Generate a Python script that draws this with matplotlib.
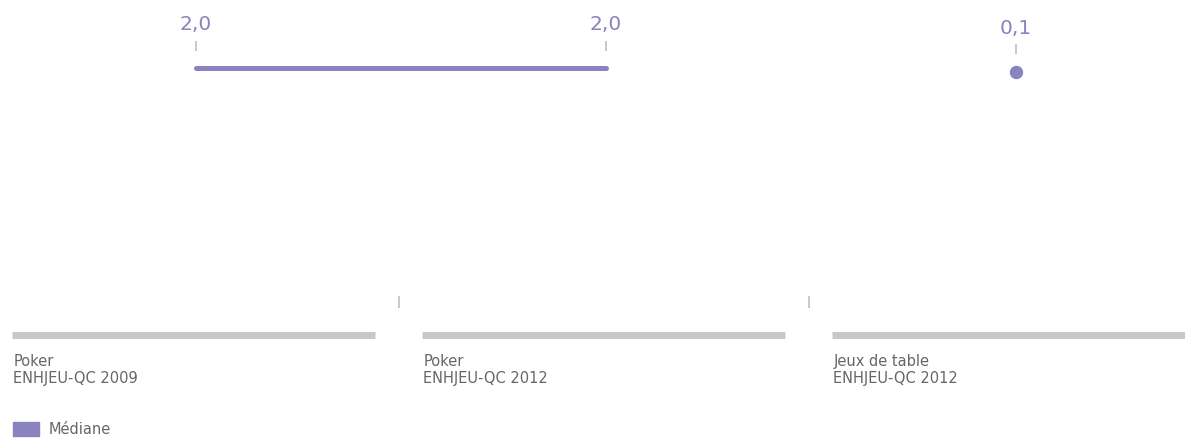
import matplotlib.pyplot as plt
from matplotlib.patches import Patch
from matplotlib.transforms import offset_copy

# Data
categories = ['Poker\nENHJEU-QC 2009', 'Poker\nENHJEU-QC 2012', 'Jeux de table\nENHJEU-QC 2012']
poker_x = [0, 1]
poker_median = [2.0, 2.0]
table_x = [2]
table_median = [0.1]
legend_label = 'Médiane'

purple = '#8983bf'
grey = '#c8c8c8'
text_grey = '#666666'
plt.rcParams['font.family'] = ['DejaVu Sans']

W, H = 1185, 442
fig = plt.figure(figsize=(W / 100, H / 100), dpi=100)

# axes in pixel terms: x spans -9..1221, y=0 at 335px from top, top at 68px
left, right, bottom, top = -9, 1221, 335, 68
ax = fig.add_axes([left / W, (H - bottom) / H, (right - left) / W, (bottom - top) / H])
ax.set_xlim(-0.5, len(categories) - 0.5)
ax.set_ylim(0, max(poker_median))
ax.axis('off')

# second series on its own scale
ax2 = ax.twinx()
ax2.set_ylim(0, max(table_median) * (bottom - top) / (bottom - top - 4))
ax2.axis('off')

# category bands and labels
half = 363 / 410 / 2
for i, cat in enumerate(categories):
    ax.hlines(0, i - half - 0.006, i + half - 0.006, color=grey, lw=5, clip_on=False)
    ax.annotate(cat, (i - half - 0.006, 0), xytext=(1, -14), textcoords='offset points',
                ha='left', va='top', fontsize=10.5, color=text_grey, linespacing=1.15,
                annotation_clip=False)

# separators between categories
sep = offset_copy(ax.transData, fig=fig, x=-2, y=33.5, units='dots')
ax.plot([i + 0.5 for i in range(len(categories) - 1)], [0] * (len(categories) - 1),
        ls='none', marker='|', ms=8, mew=1.4, color=grey, transform=sep, clip_on=False)

# median line and point
ax.plot(poker_x, poker_median, color=purple, lw=3.6, solid_capstyle='round', clip_on=False)
ax2.plot(table_x, table_median, ls='none', marker='o', ms=8.6, color=purple, clip_on=False)

for a, xs, ys in [(ax, poker_x, poker_median), (ax2, table_x, table_median)]:
    tick = offset_copy(a.transData, fig=fig, x=0, y=22.5, units='dots')
    a.plot(xs, ys, ls='none', marker='|', ms=6.5, mew=1.4, color=grey,
           transform=tick, clip_on=False)
    for x, y in zip(xs, ys):
        a.annotate(f'{y:.1f}'.replace('.', ','), (x, y), xytext=(0, 31.5), textcoords='offset points',
                   ha='center', va='center', fontsize=14.5, color=purple, annotation_clip=False)

fig.legend(handles=[Patch(color=purple, label=legend_label)], loc='upper left',
           bbox_to_anchor=(13 / W, 1 - 422 / H), frameon=False, fontsize=10.5,
           handlelength=1.8, handleheight=1.05, handletextpad=0.65, borderpad=0,
           borderaxespad=0, labelcolor=text_grey)

fig.savefig('out.png', dpi=100)
